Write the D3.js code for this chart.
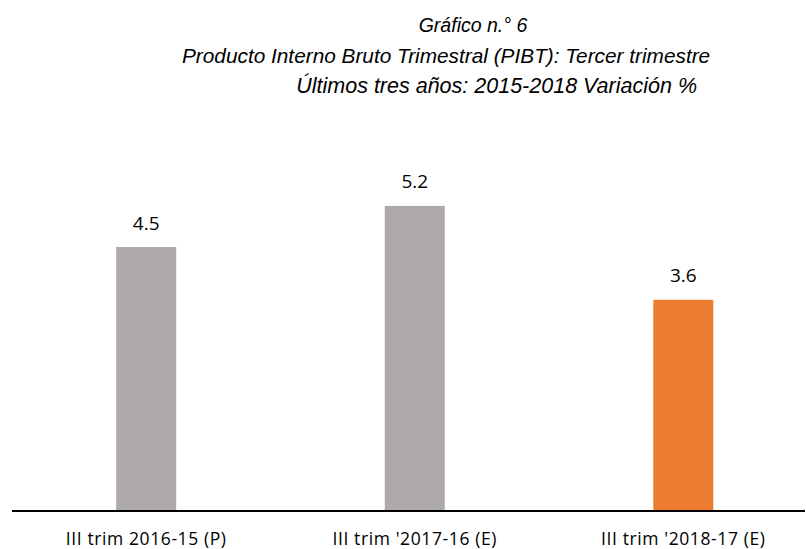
<!DOCTYPE html>
<html>
<head>
<meta charset="utf-8">
<script src="https://cdn.jsdelivr.net/npm/d3@7/dist/d3.min.js"></script>
<style>
html,body{margin:0;padding:0;background:#fff;}
svg{display:block;}
</style>
</head>
<body>
<svg id="chart" width="806" height="549"></svg>
<script>
const categories = ["III trim 2016-15 (P)", "III trim '2017-16 (E)", "III trim '2018-17 (E)"];
const values = [4.5, 5.2, 3.6];
const barColors = ["#AEAAAA", "#AEAAAA", "#ED7D31"];
const titleLines = ["Gráfico n.° 6", "Producto Interno Bruto Trimestral (PIBT): Tercer trimestre", "Últimos tres años: 2015-2018 Variación %"];

const svg = d3.select("#chart");
const x = d3.scaleBand().domain(categories).range([12, 817.5]).paddingInner(0.7765).paddingOuter(0.388);
const y = d3.scaleLinear().domain([0, 6]).range([511, 159]);

// titles
const titlePos = [{x: 473, y: 32, a: "middle", s: 19.5}, {x: 182, y: 63, a: "start", s: 20.8}, {x: 697, y: 93, a: "end", s: 21.5}];
svg.selectAll("text.title").data(titleLines).join("text")
  .attr("class", "title")
  .attr("x", (d, i) => titlePos[i].x)
  .attr("y", (d, i) => titlePos[i].y)
  .attr("text-anchor", (d, i) => titlePos[i].a)
  .attr("font-family", "'Liberation Sans', Arial, sans-serif")
  .attr("font-style", "italic")
  .attr("font-size", (d, i) => titlePos[i].s)
  .attr("fill", "#000")
  .text(d => d);

// bars
svg.selectAll("rect.bar").data(values).join("rect")
  .attr("class", "bar")
  .attr("x", (d, i) => x(categories[i]))
  .attr("width", x.bandwidth())
  .attr("y", d => y(d))
  .attr("height", d => y(0) - y(d))
  .attr("fill", (d, i) => barColors[i]);

// value labels
svg.selectAll("text.val").data(values).join("text")
  .attr("class", "val")
  .attr("x", (d, i) => x(categories[i]) + x.bandwidth() / 2)
  .attr("y", d => y(d) - 17.5)
  .attr("text-anchor", "middle")
  .attr("font-family", "'Open Sans', sans-serif")
  .attr("font-size", 19)
  .attr("fill", "#000")
  .text(d => d.toFixed(1));

// axis
const axis = d3.axisBottom(x).tickSize(0).tickPadding(0);
const gA = svg.append("g").attr("transform", "translate(0,511)").call(axis);
gA.select(".domain").remove();
gA.selectAll("text")
  .attr("y", 33.5).attr("dy", 0)
  .attr("font-family", "'Open Sans', sans-serif")
  .attr("font-size", 17.5)
  .attr("letter-spacing", 0.6)
  .attr("fill", "#000");
svg.append("line").attr("x1", 12).attr("x2", 805).attr("y1", 511).attr("y2", 511)
  .attr("stroke", "#000").attr("stroke-width", 2);
</script>
</body>
</html>
